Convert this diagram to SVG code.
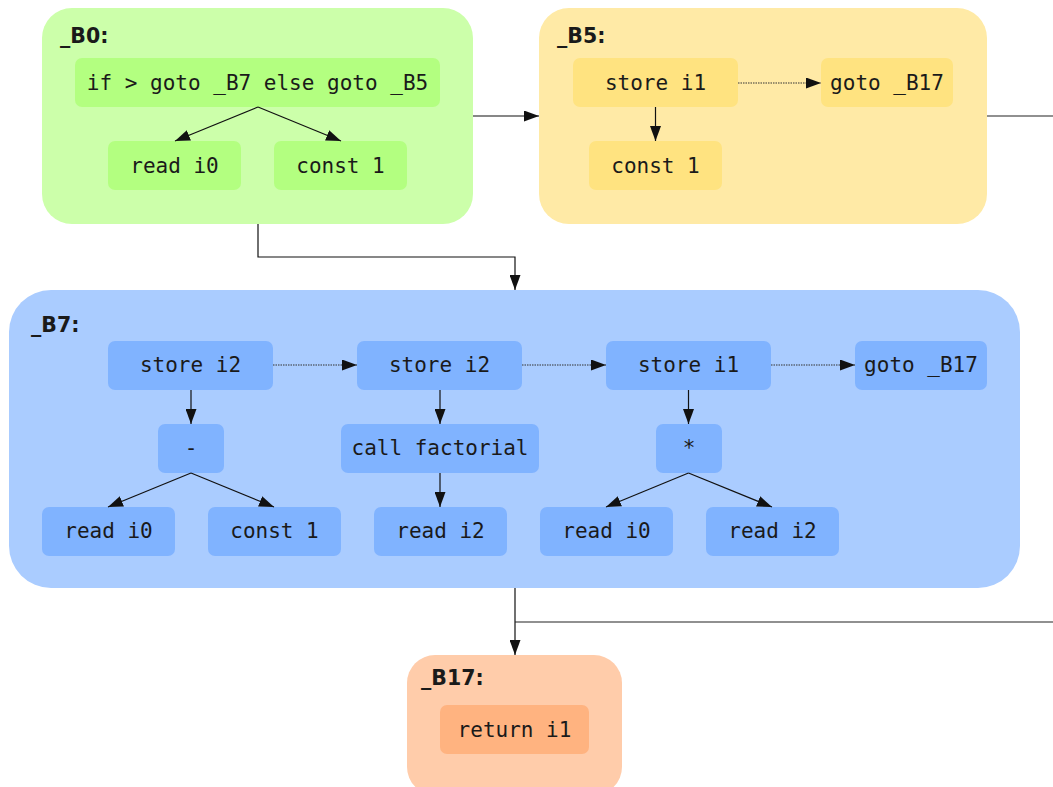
<svg xmlns="http://www.w3.org/2000/svg" width="1053" height="787" viewBox="0 0 1053 787">
<defs>
<marker id="ah" markerWidth="15" markerHeight="11" refX="15" refY="5.5" orient="auto" markerUnits="userSpaceOnUse"><path d="M0,0 L15,5.5 L0,11 z" fill="#111"/></marker>
<style>
.lbl{font-family:"DejaVu Sans",sans-serif;font-weight:bold;font-size:20.5px;fill:#1a1a1a}
.t{font-family:"DejaVu Sans Mono",monospace;font-size:21px;fill:#1a1a1a;text-anchor:middle}
.e{fill:none;stroke:#111;stroke-width:1.2;marker-end:url(#ah)}
.d{fill:none;stroke:#333;stroke-width:1.2;stroke-dasharray:1.5,1;marker-end:url(#ah)}
.l{fill:none;stroke:#222;stroke-width:1.2}
.g{fill:#ccffaa}.gn{fill:#b3ff80}
.y{fill:#ffeaa6}.yn{fill:#ffe380}
.b{fill:#aaccff}.bn{fill:#80b3ff}
.o{fill:#ffccaa}.on{fill:#ffb380}
</style>
</defs>
<g id="B0">
<rect class="g" x="42" y="8" width="431" height="216" rx="30"/>
<text class="lbl" x="60" y="43">_B0:</text>
<g id="B0_if"><rect class="gn" x="75" y="58" width="365" height="49" rx="7"/><text class="t" x="257.5" y="90">if &gt; goto _B7 else goto _B5</text></g>
<g id="B0_read"><rect class="gn" x="108" y="141" width="133" height="49" rx="7"/><text class="t" x="174.5" y="173">read i0</text></g>
<g id="B0_const"><rect class="gn" x="274" y="141" width="133" height="49" rx="7"/><text class="t" x="340.5" y="173">const 1</text></g>
</g>
<g id="B5">
<rect class="y" x="539" y="8" width="448" height="216" rx="30"/>
<text class="lbl" x="557" y="43">_B5:</text>
<g id="B5_store"><rect class="yn" x="573" y="58" width="165" height="49" rx="7"/><text class="t" x="655.5" y="90">store i1</text></g>
<g id="B5_goto"><rect class="yn" x="821" y="58" width="132" height="49" rx="7"/><text class="t" x="887" y="90">goto _B17</text></g>
<g id="B5_const"><rect class="yn" x="589" y="141" width="133" height="49" rx="7"/><text class="t" x="655.5" y="173">const 1</text></g>
</g>
<g id="B7">
<rect class="b" x="9" y="290" width="1011" height="298" rx="42"/>
<text class="lbl" x="31" y="332">_B7:</text>
<g id="B7_s1"><rect class="bn" x="108" y="341" width="165" height="49" rx="7"/><text class="t" x="190.5" y="372">store i2</text></g>
<g id="B7_s2"><rect class="bn" x="357" y="341" width="165" height="49" rx="7"/><text class="t" x="439.5" y="372">store i2</text></g>
<g id="B7_s3"><rect class="bn" x="606" y="341" width="165" height="49" rx="7"/><text class="t" x="688.5" y="372">store i1</text></g>
<g id="B7_goto"><rect class="bn" x="855" y="341" width="132" height="49" rx="7"/><text class="t" x="921" y="372">goto _B17</text></g>
<g id="B7_minus"><rect class="bn" x="158" y="424" width="66" height="49" rx="7"/><text class="t" x="191" y="455">-</text></g>
<g id="B7_call"><rect class="bn" x="341" y="424" width="198" height="49" rx="7"/><text class="t" x="440" y="455">call factorial</text></g>
<g id="B7_mul"><rect class="bn" x="656" y="424" width="66" height="49" rx="7"/><text class="t" x="689" y="455">*</text></g>
<g id="B7_r1"><rect class="bn" x="42" y="507" width="133" height="49" rx="7"/><text class="t" x="108.5" y="538">read i0</text></g>
<g id="B7_c1"><rect class="bn" x="208" y="507" width="133" height="49" rx="7"/><text class="t" x="274.5" y="538">const 1</text></g>
<g id="B7_r2"><rect class="bn" x="374" y="507" width="133" height="49" rx="7"/><text class="t" x="440.5" y="538">read i2</text></g>
<g id="B7_r3"><rect class="bn" x="540" y="507" width="133" height="49" rx="7"/><text class="t" x="606.5" y="538">read i0</text></g>
<g id="B7_r4"><rect class="bn" x="706" y="507" width="133" height="49" rx="7"/><text class="t" x="772.5" y="538">read i2</text></g>
</g>
<g id="B17">
<rect class="o" x="407" y="655" width="215" height="140" rx="28"/>
<text class="lbl" x="421" y="685">_B17:</text>
<g id="B17_ret"><rect class="on" x="440" y="705" width="149" height="49" rx="7"/><text class="t" x="514.5" y="737">return i1</text></g>
</g>
<g id="connectors">
<path class="e" d="M258,107 L175,141"/>
<path class="e" d="M258,107 L341,141"/>
<path class="e" d="M473,116 L539,116"/>
<path class="l" d="M987,116 L1053,116"/>
<path class="d" d="M738,83 L821,83"/>
<path class="e" d="M655.5,107 L655.5,141"/>
<path class="e" d="M258,224 L258,257 L515,257 L515,290"/>
<path class="d" d="M273,365 L357,365"/>
<path class="d" d="M522,365 L606,365"/>
<path class="d" d="M771,365 L855,365"/>
<path class="e" d="M191,390 L191,424"/>
<path class="e" d="M440,390 L440,424"/>
<path class="e" d="M688.5,390 L688.5,424"/>
<path class="e" d="M191,473 L108,507"/>
<path class="e" d="M191,473 L274,507"/>
<path class="e" d="M440,473 L440,507"/>
<path class="e" d="M688.5,473 L606,507"/>
<path class="e" d="M688.5,473 L772,507"/>
<path class="e" d="M515,588 L515,655"/>
<path class="l" d="M1053,622 L515,622"/>
</g>
</svg>
